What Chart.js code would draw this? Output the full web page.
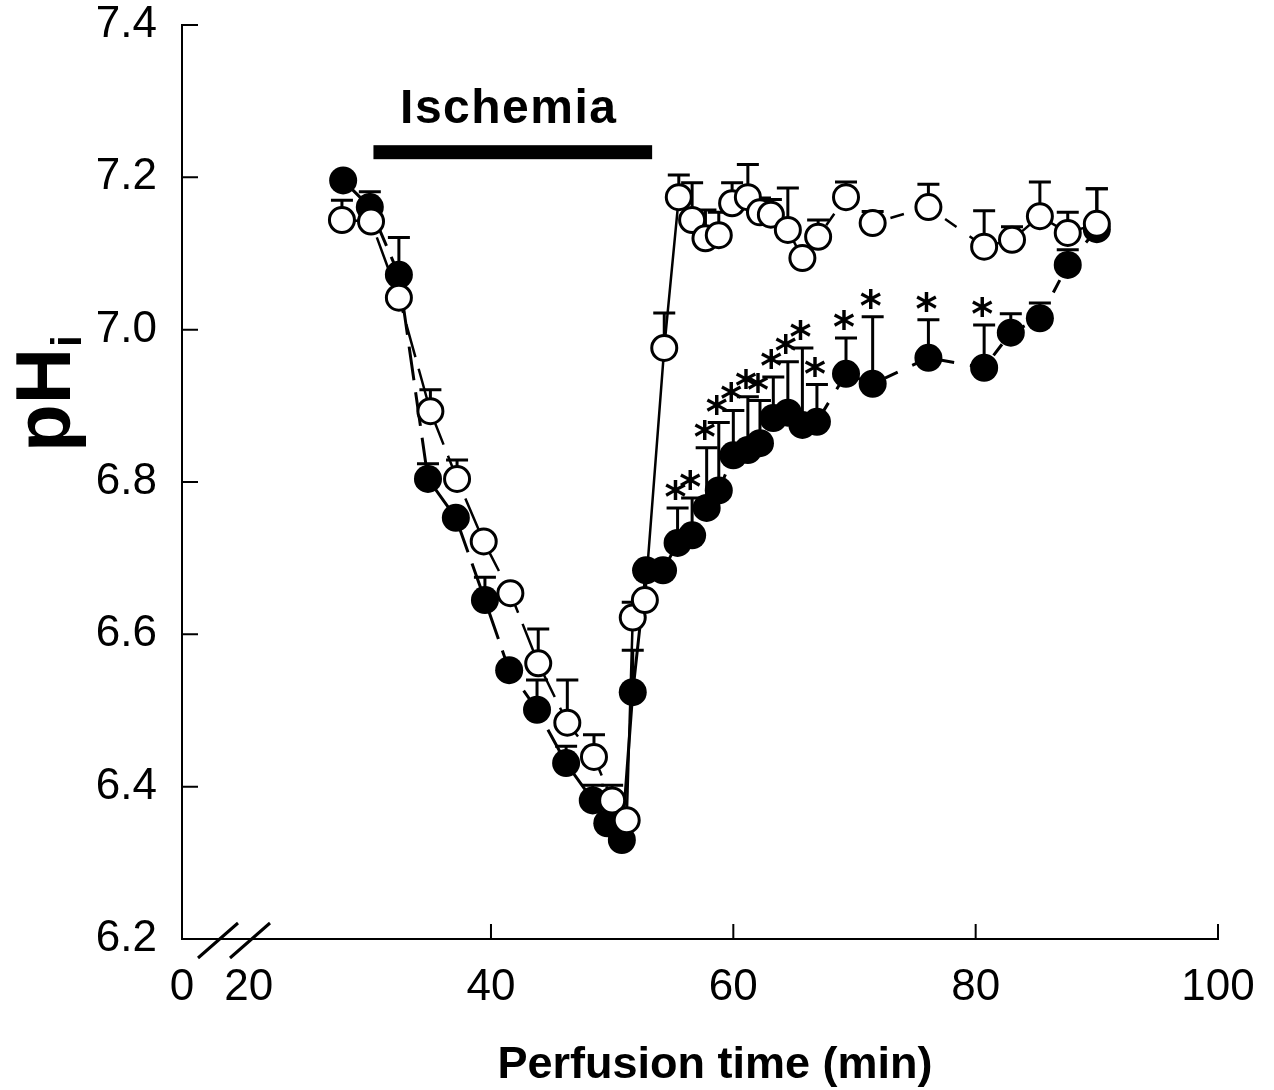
<!DOCTYPE html>
<html>
<head>
<meta charset="utf-8">
<script src="https://cdn.jsdelivr.net/npm/chart.js@4"></script>
<style>
  html, body { margin: 0; padding: 0; background: #fff; }
</style>
</head>
<body>
<canvas id="chart" width="1274" height="1090"></canvas>
<script>
// filled circles
const filledTime = [27.8, 30.0, 32.4, 34.8, 37.1, 39.5, 41.5, 43.8, 46.2, 48.4, 49.6, 50.8, 51.7, 52.8, 54.2, 55.4, 56.6, 57.8, 58.8, 60.0, 61.2, 62.2, 63.3, 64.5, 65.7, 66.9, 69.3, 71.5, 76.1, 80.7, 82.9, 85.3, 87.6, 90.0];
const filledPH = [7.196, 7.161, 7.072, 6.804, 6.753, 6.645, 6.553, 6.501, 6.431, 6.382, 6.352, 6.330, 6.524, 6.684, 6.684, 6.720, 6.730, 6.766, 6.789, 6.835, 6.842, 6.851, 6.884, 6.891, 6.875, 6.879, 6.942, 6.929, 6.963, 6.950, 6.996, 7.015, 7.085, 7.132];
const filledSEM = [0, 0.020, 0.049, 0.020, 0, 0.030, 0, 0.039, 0.022, 0.020, 0.020, 0.020, 0.055, 0, 0, 0.046, 0.049, 0.079, 0.089, 0.059, 0.070, 0.056, 0.054, 0.067, 0.101, 0.049, 0.047, 0.088, 0.050, 0.056, 0.025, 0.020, 0.020, 0.053];
const filledSig = [0, 0, 0, 0, 0, 0, 0, 0, 0, 0, 0, 0, 0, 0, 0, 1, 1, 1, 1, 1, 1, 1, 1, 1, 1, 1, 1, 1, 1, 1, 0, 0, 0, 0];

// open circles
const openTime = [27.7, 30.1, 32.4, 35.0, 37.2, 39.4, 41.6, 43.9, 46.3, 48.5, 50.0, 51.2, 51.7, 52.7, 54.3, 55.5, 56.6, 57.7, 58.8, 59.9, 61.2, 62.2, 63.1, 64.5, 65.7, 67.0, 69.3, 71.5, 76.1, 80.7, 83.0, 85.3, 87.6, 90.0];
const openPH = [7.144, 7.142, 7.042, 6.893, 6.804, 6.722, 6.654, 6.562, 6.484, 6.439, 6.382, 6.356, 6.622, 6.645, 6.976, 7.174, 7.144, 7.120, 7.124, 7.166, 7.174, 7.154, 7.151, 7.131, 7.094, 7.122, 7.174, 7.140, 7.161, 7.109, 7.118, 7.149, 7.127, 7.139];
const openSEM = [0.026, 0, 0, 0.028, 0.025, 0, 0, 0.045, 0.056, 0.029, 0.020, 0, 0.020, 0, 0.046, 0.029, 0.049, 0.037, 0.030, 0.027, 0.043, 0.019, 0.020, 0.055, 0, 0.022, 0.020, 0.015, 0.030, 0.047, 0.017, 0.045, 0.027, 0.046];

// axis (broken: the first tick stands for 0)
const xAxisStart = 14.5;
const xTickValues = [14.5, 20, 40, 60, 80, 100];
const xTickMarks = [40, 60, 80, 100];
const ischemiaStart = 30.3, ischemiaEnd = 53.3, ischemiaLevel = 7.233;

const FONT = '"Liberation Sans", Arial, Helvetica, sans-serif';
Chart.defaults.font.family = FONT;
Chart.defaults.color = '#000';

function toPoints(t, v) {
  return t.map((tt, i) => ({x: tt, y: v[i]}));
}

function segDash(ctx) {
  const dy = ctx.p1.parsed.y - ctx.p0.parsed.y;
  if (dy > 0.08) return [];
  return ctx.p0.parsed.x < 51 ? [34, 12] : [14, 16];
}

const decor = {
  id: 'decor',
  beforeDatasetsDraw(chart) {
    const {ctx, scales: {x, y}} = chart;
    ctx.save();
    ctx.strokeStyle = '#000';
    ctx.lineWidth = 3;
    [[filledTime, filledPH, filledSEM], [openTime, openPH, openSEM]].forEach(([t, v, e]) => {
      t.forEach((tt, i) => {
        if (!e[i]) return;
        const px = x.getPixelForValue(tt);
        const py = y.getPixelForValue(v[i]);
        const top = y.getPixelForValue(v[i] + e[i]);
        ctx.beginPath();
        ctx.moveTo(px, py);
        ctx.lineTo(px, top);
        ctx.moveTo(px - 11, top);
        ctx.lineTo(px + 11, top);
        ctx.stroke();
      });
    });
    ctx.restore();
  },
  afterDraw(chart) {
    const {ctx, chartArea, scales: {x, y}} = chart;
    ctx.save();
    ctx.strokeStyle = '#000';
    ctx.fillStyle = '#000';

    // inward tick marks
    ctx.lineWidth = 2;
    ctx.beginPath();
    y.ticks.forEach(tk => {
      const py = y.getPixelForValue(tk.value);
      ctx.moveTo(chartArea.left, py);
      ctx.lineTo(chartArea.left + 16, py);
    });
    xTickMarks.forEach(v => {
      const px = x.getPixelForValue(v);
      ctx.moveTo(px, chartArea.bottom);
      ctx.lineTo(px, chartArea.bottom - 15);
    });
    ctx.stroke();

    // axis break
    ctx.lineWidth = 3;
    ctx.beginPath();
    const b = chartArea.bottom;
    ctx.moveTo(198, b + 19); ctx.lineTo(238, b - 16);
    ctx.moveTo(230, b + 19); ctx.lineTo(270, b - 16);
    ctx.stroke();

    // ischemia bar + label
    const x0 = x.getPixelForValue(ischemiaStart), x1 = x.getPixelForValue(ischemiaEnd);
    const yb = y.getPixelForValue(ischemiaLevel);
    ctx.fillRect(x0, yb - 7, x1 - x0, 14);
    ctx.font = 'bold 48px ' + FONT;
    ctx.letterSpacing = '1.5px';
    ctx.textAlign = 'center';
    ctx.textBaseline = 'alphabetic';
    ctx.fillText('Ischemia', (x0 + x1) / 2 - 4, yb - 29);
    ctx.letterSpacing = '0px';

    // significance marks
    ctx.font = 'bold 42px "DejaVu Sans", sans-serif';
    filledTime.forEach((t, i) => {
      if (!filledSig[i]) return;
      const px = x.getPixelForValue(t);
      const top = y.getPixelForValue(filledPH[i] + filledSEM[i]);
      ctx.fillText('*', px - 2, top - 20 + 24);
    });

    // x title
    ctx.font = 'bold 45px ' + FONT;
    ctx.fillText('Perfusion time (min)', 715, 1078);

    // y title pH with subscript i
    ctx.translate(70, 400);
    ctx.rotate(-Math.PI / 2);
    ctx.font = 'bold 78px ' + FONT;
    ctx.textAlign = 'center';
    ctx.fillText('pH', 0, 0);
    const w = ctx.measureText('pH').width;
    ctx.font = 'bold 42px ' + FONT;
    ctx.textAlign = 'left';
    ctx.fillText('i', w / 2 + 1, 11);
    ctx.restore();
  }
};

new Chart(document.getElementById('chart').getContext('2d'), {
  type: 'line',
  data: {
    datasets: [
      {
        label: 'open',
        data: toPoints(openTime, openPH),
        order: 0,
        borderColor: '#000',
        borderWidth: 2.5,
        borderDash: [14, 16],
        segment: {borderDash: segDash},
        pointRadius: 12.5,
        pointBorderWidth: 3,
        pointBackgroundColor: '#fff',
        pointBorderColor: '#000',
        fill: false,
        tension: 0
      },
      {
        label: 'filled',
        data: toPoints(filledTime, filledPH),
        order: 1,
        borderColor: '#000',
        borderWidth: 3,
        borderDash: [14, 16],
        segment: {borderDash: segDash},
        pointRadius: 14,
        pointBorderWidth: 0,
        pointBackgroundColor: '#000',
        pointBorderColor: '#000',
        fill: false,
        tension: 0
      }
    ]
  },
  options: {
    responsive: false,
    devicePixelRatio: 1,
    animation: false,
    layout: {padding: {top: 25, right: 56, left: 0, bottom: 0}},
    plugins: {legend: {display: false}, tooltip: {enabled: false}},
    scales: {
      x: {
        type: 'linear',
        min: xAxisStart,
        max: 100,
        afterBuildTicks: axis => { axis.ticks = xTickValues.map(v => ({value: v})); },
        afterFit: axis => { axis.height = 151; axis.paddingLeft = 0; axis.paddingRight = 0; },
        grid: {display: false, drawTicks: false},
        border: {display: true, color: '#000', width: 2},
        ticks: {
          font: {size: 44},
          color: '#000',
          padding: 22,
          maxRotation: 0,
          autoSkip: false,
          callback: v => (v < 15 ? '0' : String(v))
        }
      },
      y: {
        min: 6.2,
        max: 7.4,
        afterFit: axis => { axis.width = 182; axis.paddingTop = 0; axis.paddingBottom = 0; },
        grid: {display: false, drawTicks: false},
        border: {display: true, color: '#000', width: 2},
        ticks: {
          stepSize: 0.2,
          font: {size: 44},
          color: '#000',
          padding: 25,
          callback: v => v.toFixed(1)
        }
      }
    }
  },
  plugins: [decor]
});
</script>
</body>
</html>
